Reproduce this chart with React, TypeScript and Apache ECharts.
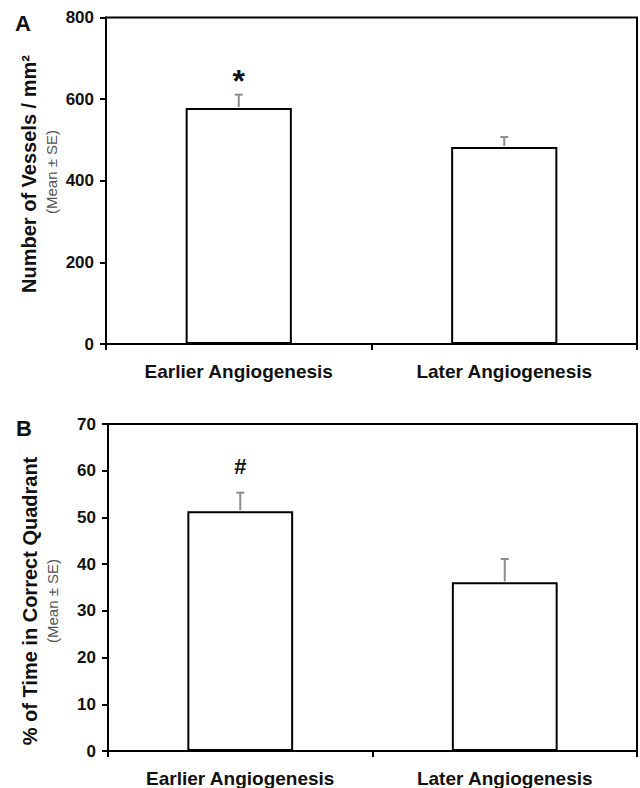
import React, { useEffect, useRef } from "react";
import * as echarts from "echarts";

const categories = ["Earlier Angiogenesis", "Later Angiogenesis"];

const vesselMeans = [578, 483];
const vesselSE = [33, 24];
const vesselMarks = ["*", ""];
const vesselMax = 800;
const vesselInterval = 200;

const quadrantMeans = [51.3, 36.1];
const quadrantSE = [4.0, 5.0];
const quadrantMarks = ["#", ""];
const quadrantMax = 70;
const quadrantInterval = 10;

const FONT = "'Liberation Sans', Arial, Helvetica, sans-serif";

function errorSeries(idx: number, means: number[], ses: number[], marks: string[], markFont: number, markOffset: number) {
  return {
    type: "custom",
    xAxisIndex: idx,
    yAxisIndex: idx,
    z: 5,
    silent: true,
    clip: false,
    encode: { x: 0, y: 1 },
    data: means.map((m, i) => [i, m, ses[i]]),
    renderItem: (params: any, api: any) => {
      const i = api.value(0);
      const m = api.value(1);
      const se = api.value(2);
      const base = api.coord([i, m]);
      const top = api.coord([i, m + se]);
      const children: any[] = [
        { type: "line", shape: { x1: base[0], y1: base[1] - 1, x2: top[0], y2: top[1] }, style: { stroke: "#8c8c8c", lineWidth: 2 } },
        { type: "line", shape: { x1: top[0] - 4, y1: top[1], x2: top[0] + 4, y2: top[1] }, style: { stroke: "#8c8c8c", lineWidth: 2 } },
      ];
      const mark = marks[params.dataIndex];
      if (mark) {
        children.push({
          type: "text",
          x: top[0],
          y: top[1] - markOffset,
          style: { text: mark, fontSize: markFont, fontWeight: "bold", fontFamily: FONT, fill: "#111", align: "center", verticalAlign: "middle" },
        });
      }
      return { type: "group", children };
    },
  };
}

function xAxisCfg(idx: number) {
  return {
    type: "category",
    gridIndex: idx,
    data: categories,
    boundaryGap: true,
    axisLine: { lineStyle: { color: "#000", width: 2 } },
    axisTick: { show: true, length: 6, lineStyle: { color: "#000", width: 2 } },
    axisLabel: { fontSize: 19, fontWeight: "bold", fontFamily: FONT, color: "#111", margin: 18 },
    splitLine: { show: false },
  };
}

function yAxisCfg(idx: number, max: number, interval: number) {
  return {
    type: "value",
    gridIndex: idx,
    min: 0,
    max,
    interval,
    axisLine: { show: true, lineStyle: { color: "#000", width: 2 } },
    axisTick: { show: true, length: 6, lineStyle: { color: "#000", width: 2 } },
    axisLabel: { fontSize: 17, fontWeight: "bold", fontFamily: FONT, color: "#111", margin: 12 },
    splitLine: { show: false },
  };
}

function barSeries(idx: number, means: number[]) {
  return {
    type: "bar",
    xAxisIndex: idx,
    yAxisIndex: idx,
    barWidth: "40%",
    data: means,
    itemStyle: { color: "#fff", borderColor: "#000", borderWidth: 2 },
  };
}

function rotText(text: string, x: number, y: number, size: number, bold: boolean, color: string) {
  return {
    type: "text",
    x,
    y,
    rotation: Math.PI / 2,
    style: { text, fontSize: size, fontWeight: bold ? "bold" : "normal", fontFamily: FONT, fill: color, align: "center", verticalAlign: "middle" },
  };
}

export default function App() {
  const ref = useRef<HTMLDivElement>(null);
  useEffect(() => {
    if (!ref.current) return;
    const chart = echarts.init(ref.current, undefined, { renderer: "svg" });
    chart.setOption({
      animation: false,
      backgroundColor: "#fff",
      grid: [
        { left: 106, top: 17.5, width: 531, height: 326.5, show: true, borderColor: "#000", borderWidth: 2, backgroundColor: "transparent" },
        { left: 108, top: 424, width: 529, height: 328, show: true, borderColor: "#000", borderWidth: 2, backgroundColor: "transparent" },
      ],
      xAxis: [xAxisCfg(0), xAxisCfg(1)],
      yAxis: [yAxisCfg(0, vesselMax, vesselInterval), yAxisCfg(1, quadrantMax, quadrantInterval)],
      series: [
        barSeries(0, vesselMeans),
        barSeries(1, quadrantMeans),
        errorSeries(0, vesselMeans, vesselSE, vesselMarks, 32, 14),
        errorSeries(1, quadrantMeans, quadrantSE, quadrantMarks, 22, 26),
      ],
      graphic: [
        { type: "text", left: 15, top: 12, style: { text: "A", fontSize: 22, fontWeight: "bold", fontFamily: FONT, fill: "#111" } },
        { type: "text", left: 16, top: 417, style: { text: "B", fontSize: 22, fontWeight: "bold", fontFamily: FONT, fill: "#111" } },
        rotText("Number of Vessels / mm²", 29, 174, 20, true, "#111"),
        rotText("(Mean ± SE)", 51, 172, 15, false, "#555"),
        rotText("% of Time in Correct Quadrant", 30, 601, 20, true, "#111"),
        rotText("(Mean ± SE)", 52, 601, 15, false, "#555"),
      ],
    });
    return () => chart.dispose();
  }, []);
  return <div ref={ref} style={{ position: "absolute", left: 0, top: 0, width: 640, height: 788 }} />;
}
